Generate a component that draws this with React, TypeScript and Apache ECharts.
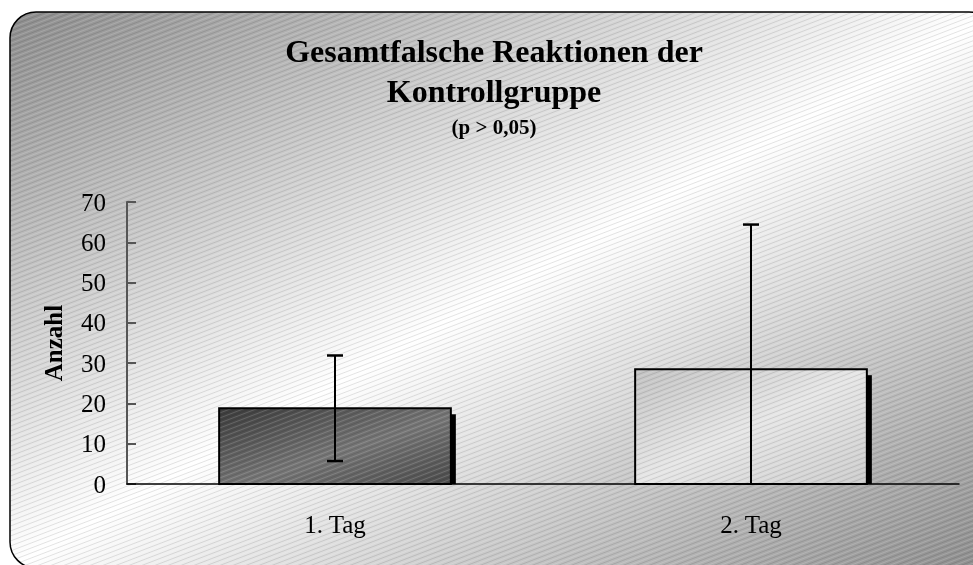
import React, { useEffect, useRef } from "react";
import * as echarts from "echarts";

const categories = ["1. Tag", "2. Tag"];
const meanValues = [18.8, 28.5];
const errorLow = [5.7, -7.4];
const errorHigh = [31.9, 64.4];
const titleLines = ["Gesamtfalsche Reaktionen der", "Kontrollgruppe"];
const subTitle = "(p > 0,05)";
const yAxisName = "Anzahl";

const FONT = "'Liberation Serif', 'Times New Roman', serif";

function makeHatch(): string {
  const c = document.createElement("canvas");
  c.width = 13;
  c.height = 5;
  const ctx = c.getContext("2d");
  if (!ctx) return "";
  const drawLine = (off: number, color: string) => {
    ctx.strokeStyle = color;
    ctx.lineWidth = 1;
    for (const k of [-5, 0, 5]) {
      ctx.beginPath();
      ctx.moveTo(-13, 10 + k + off);
      ctx.lineTo(26, -5 + k + off);
      ctx.stroke();
    }
  };
  drawLine(0, "rgba(0,0,0,0.11)");
  drawLine(2.5, "rgba(255,255,255,0.16)");
  return c.toDataURL();
}

export default function App() {
  const ref = useRef<HTMLDivElement>(null);
  useEffect(() => {
    if (!ref.current) return;
    const chart = echarts.init(ref.current, undefined, { renderer: "svg" });
    const hatchUrl = makeHatch();
    const hatch: any = hatchUrl
      ? { image: hatchUrl, repeat: "repeat", imageWidth: 13, imageHeight: 5 }
      : "transparent";

    const barFills = [
      new echarts.graphic.LinearGradient(0, 0, 1, 1, [
        { offset: 0, color: "#3a3a3a" },
        { offset: 0.55, color: "#767676" },
        { offset: 1, color: "#4a4a4a" },
      ]),
      new echarts.graphic.LinearGradient(0, 0, 1, 1, [
        { offset: 0, color: "#c2c2c2" },
        { offset: 0.5, color: "#e6e6e6" },
        { offset: 1, color: "#cccccc" },
      ]),
    ];

    const option: any = {
      animation: false,
      grid: { left: 127, right: 14, top: 202, bottom: 81, containLabel: false },
      graphic: [
        {
          type: "rect",
          z: -10,
          shape: { x: 10, y: 12, width: 985, height: 556, r: 26 },
          style: {
            fill: new echarts.graphic.LinearGradient(0, 0, 1, 1, [
              { offset: 0, color: "#8c8c8c" },
              { offset: 0.5, color: "#ffffff" },
              { offset: 1, color: "#8c8c8c" },
            ]),
          },
        },
        {
          type: "rect",
          z: -9,
          shape: { x: 10, y: 12, width: 985, height: 556, r: 26 },
          style: { fill: hatch },
        },
        {
          type: "rect",
          z: -8,
          shape: { x: 10, y: 12, width: 985, height: 556, r: 26 },
          style: { fill: "transparent", stroke: "#000", lineWidth: 1.5 },
        },
        {
          type: "text",
          z: 10,
          x: 494,
          y: 51,
          style: {
            text: titleLines[0],
            fontFamily: FONT,
            fontWeight: "bold",
            fontSize: 32,
            fill: "#000",
            align: "center",
            verticalAlign: "middle",
          },
        },
        {
          type: "text",
          z: 10,
          x: 494,
          y: 91,
          style: {
            text: titleLines[1],
            fontFamily: FONT,
            fontWeight: "bold",
            fontSize: 32,
            fill: "#000",
            align: "center",
            verticalAlign: "middle",
          },
        },
        {
          type: "text",
          z: 10,
          x: 494,
          y: 127,
          style: {
            text: subTitle,
            fontFamily: FONT,
            fontWeight: "bold",
            fontSize: 21,
            fill: "#000",
            align: "center",
            verticalAlign: "middle",
          },
        },
      ],
      xAxis: {
        type: "category",
        data: categories,
        axisLine: { show: true, lineStyle: { color: "#000", width: 1.5 } },
        axisTick: { show: false },
        axisLabel: { fontFamily: FONT, fontSize: 25, color: "#000", margin: 28 },
        splitLine: { show: false },
        z: 5,
      },
      yAxis: {
        type: "value",
        min: 0,
        max: 70,
        interval: 10,
        name: yAxisName,
        nameLocation: "middle",
        nameRotate: 90,
        nameGap: 61,
        nameTextStyle: { fontFamily: FONT, fontSize: 25, fontWeight: "bold", color: "#000" },
        axisLine: { show: true, lineStyle: { color: "#555", width: 2 } },
        axisTick: { show: true, inside: true, length: 9, lineStyle: { color: "#555", width: 2 } },
        axisLabel: { fontFamily: FONT, fontSize: 25, color: "#000", margin: 21 },
        splitLine: { show: false },
      },
      series: [
        {
          type: "custom",
          name: "bars",
          data: meanValues.map((v, i) => [i, v]),
          renderItem: (params: any, api: any) => {
            const i = params.dataIndex;
            const x = api.value(0);
            const v = api.value(1);
            const base = api.coord([x, 0]);
            const top = api.coord([x, v]);
            const band = api.size([1, 0])[0];
            const w = band * 0.557;
            const left = base[0] - w / 2;
            const h = base[1] - top[1];
            return {
              type: "group",
              children: [
                {
                  type: "rect",
                  shape: { x: left + w, y: top[1] + 6, width: 5, height: h - 6 },
                  style: { fill: "#000" },
                },
                {
                  type: "rect",
                  shape: { x: left, y: top[1], width: w, height: h },
                  style: { fill: barFills[i % barFills.length] },
                },
                {
                  type: "rect",
                  shape: { x: left, y: top[1], width: w, height: h },
                  style: { fill: hatch },
                },
                {
                  type: "rect",
                  shape: { x: left, y: top[1], width: w, height: h },
                  style: { fill: "transparent", stroke: "#000", lineWidth: 2 },
                },
              ],
            };
          },
          z: 3,
        },
        {
          type: "custom",
          name: "errors",
          data: meanValues.map((_, i) => [i, errorLow[i], errorHigh[i]]),
          renderItem: (params: any, api: any) => {
            const x = api.value(0);
            const lo = api.value(1);
            const hi = api.value(2);
            const pLo = api.coord([x, Math.max(lo, 0)]);
            const pHi = api.coord([x, hi]);
            const cap = 8;
            const children: any[] = [
              {
                type: "line",
                shape: { x1: pLo[0], y1: pLo[1], x2: pHi[0], y2: pHi[1] },
                style: { stroke: "#000", lineWidth: 2 },
              },
              {
                type: "line",
                shape: { x1: pHi[0] - cap, y1: pHi[1], x2: pHi[0] + cap, y2: pHi[1] },
                style: { stroke: "#000", lineWidth: 2.5 },
              },
            ];
            if (lo >= 0) {
              children.push({
                type: "line",
                shape: { x1: pLo[0] - cap, y1: pLo[1], x2: pLo[0] + cap, y2: pLo[1] },
                style: { stroke: "#000", lineWidth: 2.5 },
              });
            }
            return { type: "group", children };
          },
          z: 4,
        },
      ],
    };
    chart.setOption(option);
    return () => chart.dispose();
  }, []);
  return (
    <div
      ref={ref}
      style={{ position: "fixed", left: 0, top: 0, width: 973, height: 565 }}
    />
  );
}
